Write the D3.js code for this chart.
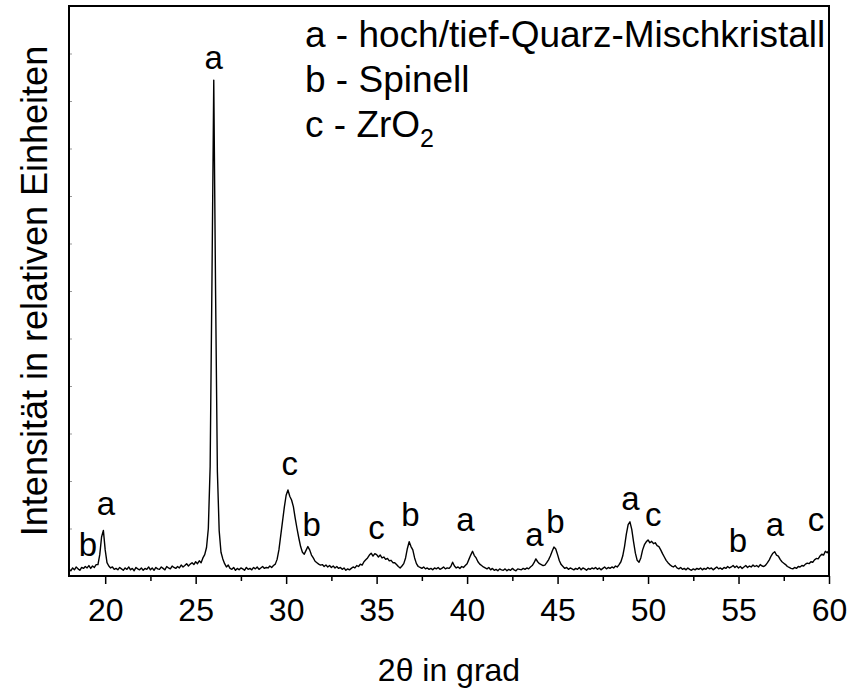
<!DOCTYPE html>
<html>
<head>
<meta charset="utf-8">
<script src="https://cdn.jsdelivr.net/npm/d3@7"></script>
<style>
  html, body { margin: 0; padding: 0; background: #fff; }
  svg { display: block; font-family: "Liberation Sans", Arial, sans-serif; }
</style>
</head>
<body>
<svg id="chart" width="853" height="691"></svg>
<script>
// Diffractogram sampled from 18.0° to 60.0° 2θ in 0.1° steps (relative counts)
const twoThetaStart = 18.0;
const twoThetaStep = 0.1;
const intensity = [
  14, 11, 17, 13, 19, 15, 12, 18, 16, 20,        // 18
  17, 22, 16, 21, 18, 24, 24, 45, 82, 96,        // 19
  55, 28, 21, 17, 19, 14, 16, 13, 18, 15,        // 20
  12, 17, 14, 19, 13, 16, 11, 18, 15, 13,        // 21
  17, 12, 16, 14, 19, 13, 17, 12, 18, 15,        // 22
  14, 19, 16, 13, 20, 17, 15, 21, 18, 16,        // 23
  20, 17, 23, 19, 22, 26, 21, 25, 28, 24,        // 24
  30, 26, 32, 28, 38, 45, 60, 100, 230, 620,     // 25
  1044, 600, 220, 95, 50, 36, 26, 19, 23, 16,    // 26
  14, 18, 12, 16, 13, 17, 15, 12, 18, 14,        // 27
  16, 13, 18, 15, 19, 14, 17, 20, 16, 18,        // 28
  17, 21, 18, 22, 25, 35, 55, 85, 115, 145,      // 29
  170, 181, 168, 160, 146, 122, 100, 80, 62, 50, // 30
  46, 54, 62, 55, 44, 38, 31, 28, 25, 23,        // 31
  24, 20, 23, 19, 22, 18, 21, 17, 20, 16,        // 32
  18, 14, 17, 12, 15, 13, 16, 19, 17, 22,        // 33
  20, 25, 23, 30, 34, 38, 44, 48, 42, 47,        // 34
  45, 40, 44, 38, 40, 35, 37, 32, 33, 28,        // 35
  28, 24, 20, 17, 21, 26, 38, 58, 72, 62,        // 36
  55, 38, 26, 20, 18, 16, 19, 15, 17, 14,        // 37
  16, 13, 17, 15, 18, 14, 16, 19, 15, 17,        // 38
  16, 20, 29, 21, 17, 19, 16, 20, 18, 22,        // 39
  26, 35, 44, 52, 43, 38, 30, 25, 22, 19,        // 40
  17, 15, 18, 13, 16, 12, 14, 11, 15, 13,        // 41
  12, 15, 11, 14, 12, 16, 13, 11, 15, 14,        // 42
  13, 16, 14, 17, 15, 19, 22, 28, 36, 30,        // 43
  26, 24, 22, 23, 28, 34, 42, 52, 61, 57,        // 44
  45, 32, 24, 20, 16, 18, 14, 17, 15, 13,        // 45
  16, 14, 18, 13, 17, 15, 12, 16, 14, 17,        // 46
  15, 18, 14, 17, 13, 16, 19, 15, 18, 16,        // 47
  19, 17, 21, 19, 24, 30, 42, 62, 88, 108,       // 48
  114, 98, 72, 48, 33, 29, 38, 55, 66, 72,       // 49
  76, 70, 73, 68, 70, 64, 62, 55, 47, 40,        // 50
  33, 28, 24, 21, 19, 22, 17, 15, 18, 14,        // 51
  16, 13, 17, 14, 12, 15, 13, 16, 14, 17,        // 52
  13, 16, 14, 18, 15, 17, 13, 16, 19, 15,        // 53
  17, 14, 18, 16, 20, 17, 19, 22, 18, 21,        // 54
  17, 20, 16, 19, 22, 18, 21, 19, 23, 20,        // 55
  22, 19, 24, 21, 20, 23, 28, 34, 42, 48,        // 56
  51, 44, 42, 35, 30, 27, 24, 20, 18, 16,        // 57
  15, 18, 16, 20, 19, 22, 21, 25, 27, 26,        // 58
  30, 29, 34, 37, 36, 42, 46, 44, 52, 49,        // 59
  54                                             // 60
];

// Phase assignments written above the reflections
const peakLetters = ["b", "a", "a", "c", "b", "c", "b", "a", "a", "b", "a", "c", "b", "a", "c"];
const peakTheta   = [19.05, 20.04, 26.0, 30.2, 31.41, 35.0, 36.87, 39.91, 43.72, 44.88, 49.02, 50.29, 54.97, 57.01, 59.28];
const peakLabelY  = [42, 128, 1067, 213, 84, 78, 105, 95, 63, 91, 139, 105, 51, 84, 95];

// Axis ticks
const xMajorTicks = [20, 25, 30, 35, 40, 45, 50, 55, 60];
const xMinorTicks = [22.5, 27.5, 32.5, 37.5, 42.5, 47.5, 52.5, 57.5];
const yTicks = [100, 200, 300, 400, 500, 600, 700, 800, 900, 1000, 1100];

// Legend entries: letter, phase name, optional subscript
const legendLetters = ["a", "b", "c"];
const legendNames = ["hoch/tief-Quarz-Mischkristall", "Spinell", "ZrO"];
const legendSubs = ["", "", "2"];

const xTitle = "2\u03B8 in grad";
const yTitle = "Intensität in relativen Einheiten";

const svg = d3.select("#chart");
const plot = { left: 69, right: 829, top: 6, bottom: 576 };

const x = d3.scaleLinear().domain([18, 60]).range([plot.left, plot.right]);
const y = d3.scaleLinear().domain([0, 1200]).range([plot.bottom, plot.top]);

const points = intensity.map((v, i) => [twoThetaStart + i * twoThetaStep, v]);

// Minor x ticks
svg.append("g")
  .attr("transform", `translate(0,${plot.bottom})`)
  .call(d3.axisBottom(x).tickValues(xMinorTicks).tickSize(5).tickFormat(""))
  .call(g => g.select(".domain").remove())
  .call(g => g.selectAll("line").attr("stroke", "#000").attr("stroke-width", 1.5));

// Major x ticks with labels
svg.append("g")
  .attr("transform", `translate(0,${plot.bottom})`)
  .call(d3.axisBottom(x).tickValues(xMajorTicks).tickSize(8).tickPadding(14).tickFormat(d3.format("d")))
  .call(g => g.select(".domain").remove())
  .call(g => g.selectAll("line").attr("stroke", "#000").attr("stroke-width", 1.5))
  .call(g => g.selectAll("text")
    .attr("fill", "#000")
    .style("font-size", "32px")
    .style("font-family", "'Liberation Sans', Arial, sans-serif"));

// Faint inward y ticks (no labels)
svg.append("g")
  .attr("transform", `translate(${plot.left},0)`)
  .call(d3.axisLeft(y).tickValues(yTicks).tickSize(-3).tickFormat(""))
  .call(g => g.select(".domain").remove())
  .call(g => g.selectAll("line").attr("stroke", "#999").attr("stroke-width", 1));

// Diffraction curve
const line = d3.line()
  .x(d => x(d[0]))
  .y(d => y(d[1]));

svg.append("path")
  .datum(points)
  .attr("fill", "none")
  .attr("stroke", "#000")
  .attr("stroke-width", 1.4)
  .attr("stroke-linejoin", "round")
  .attr("d", line);

// Frame
svg.append("rect")
  .attr("x", plot.left)
  .attr("y", plot.top)
  .attr("width", plot.right - plot.left)
  .attr("height", plot.bottom - plot.top)
  .attr("fill", "none")
  .attr("stroke", "#000")
  .attr("stroke-width", 2);

// Phase letters over the peaks
svg.append("g")
  .selectAll("text")
  .data(peakLetters)
  .join("text")
  .attr("x", (d, i) => x(peakTheta[i]))
  .attr("y", (d, i) => y(peakLabelY[i]))
  .attr("text-anchor", "middle")
  .style("font-size", "33px")
  .attr("fill", "#000")
  .text(d => d);

// Legend
const legend = svg.append("g");
legendLetters.forEach((letter, i) => {
  const t = legend.append("text")
    .attr("x", 305)
    .attr("y", 47 + i * 45)
    .style("font-size", "37px")
    .attr("fill", "#000");
  t.append("tspan").text(`${letter} - ${legendNames[i]}`);
  if (legendSubs[i]) {
    t.append("tspan")
      .attr("dy", 10)
      .style("font-size", "25px")
      .text(legendSubs[i]);
  }
});

// Axis titles
svg.append("text")
  .attr("x", (plot.left + plot.right) / 2)
  .attr("y", 681)
  .attr("text-anchor", "middle")
  .style("font-size", "32px")
  .attr("fill", "#000")
  .text(xTitle);

svg.append("text")
  .attr("transform", `translate(47,${(plot.top + plot.bottom) / 2}) rotate(-90)`)
  .attr("text-anchor", "middle")
  .style("font-size", "36px")
  .attr("fill", "#000")
  .text(yTitle);
</script>
</body>
</html>
